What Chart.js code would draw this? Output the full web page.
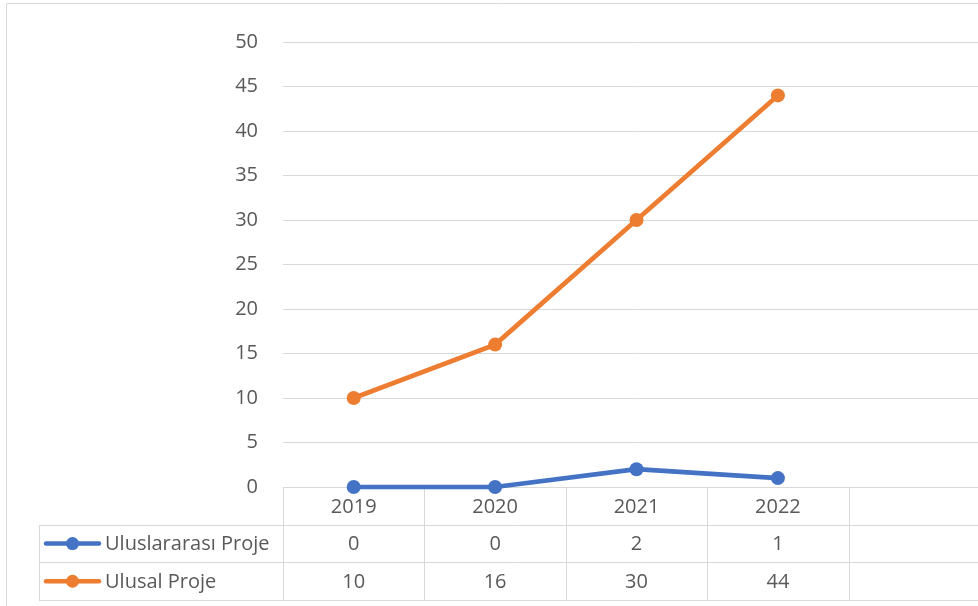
<!DOCTYPE html>
<html><head><meta charset="utf-8">
<script src="https://cdn.jsdelivr.net/npm/chart.js@4/dist/chart.umd.min.js"></script>
<style>
html,body{margin:0;padding:0;background:#fff;overflow:hidden}
#wrap{width:978px;height:606px;overflow:hidden;position:relative}
#box{width:997px;height:606px}
</style></head>
<body><div id="wrap"><div id="box"><canvas id="c"></canvas></div></div>
<script>
const categories = ['2019', '2020', '2021', '2022', ''];
const seriesNames = ['Uluslararası Proje', 'Ulusal Proje'];
const uluslararasiProje = [0, 0, 2, 1, null];
const ulusalProje = [10, 16, 30, 44, null];
const seriesColors = ['#4472C4', '#ED7D31'];
const yTicks = [0, 5, 10, 15, 20, 25, 30, 35, 40, 45, 50];

const FONT = "'Open Sans', 'Liberation Sans', sans-serif";
const TEXT = '#595959';
const GRID = '#D9D9D9';

const tablePlugin = {
  id: 'dataTable',
  beforeDatasetsDraw(chart) {
    const ctx = chart.ctx;
    const xs = chart.scales.x;
    const area = chart.chartArea;
    const rowH = 37.7;
    const top = area.bottom;
    const colW = xs.getPixelForValue(1) - xs.getPixelForValue(0);
    const tableLeft = 39;
    const n = categories.length;
    const rightEdge = xs.getPixelForValue(n - 1) + colW / 2;
    const sx = v => Math.round(v) + 0.5;
    ctx.save();
    ctx.strokeStyle = GRID;
    ctx.lineWidth = 1;
    ctx.beginPath();
    // outer frame
    ctx.moveTo(sx(6), sx(3)); ctx.lineTo(chart.width, sx(3));
    ctx.moveTo(sx(6), sx(3)); ctx.lineTo(sx(6), chart.height);
    // horizontal table lines
    for (let r = 1; r <= 3; r++) {
      const y = sx(top + r * rowH);
      ctx.moveTo(tableLeft, y); ctx.lineTo(rightEdge, y);
    }
    // vertical lines
    ctx.moveTo(sx(tableLeft), sx(top + rowH)); ctx.lineTo(sx(tableLeft), sx(top + 3 * rowH));
    for (let i = 0; i <= n; i++) {
      const x = sx(xs.getPixelForValue(0) - colW / 2 + i * colW);
      ctx.moveTo(x, sx(top)); ctx.lineTo(x, sx(top + 3 * rowH));
    }
    ctx.stroke();

    ctx.fillStyle = TEXT;
    ctx.font = "20px " + FONT;
    ctx.textAlign = 'center';
    ctx.textBaseline = 'middle';
    categories.forEach((c, i) => {
      ctx.fillText(c, xs.getPixelForValue(i), top + rowH / 2 + 1);
    });
    chart.data.datasets.forEach((ds, r) => {
      const cy = top + rowH * (r + 1.5);
      ds.data.forEach((v, i) => {
        if (v !== null && v !== undefined) {
          ctx.fillStyle = TEXT;
          ctx.textAlign = 'center';
          ctx.fillText(String(v), xs.getPixelForValue(i), cy + 1);
        }
      });
      // legend key
      ctx.strokeStyle = ds.borderColor;
      ctx.lineWidth = 4.5;
      ctx.lineCap = 'round';
      ctx.beginPath();
      ctx.moveTo(46, cy); ctx.lineTo(99, cy);
      ctx.stroke();
      ctx.fillStyle = ds.borderColor;
      ctx.beginPath();
      ctx.arc(72.5, cy, 6.5, 0, Math.PI * 2);
      ctx.fill();
      ctx.fillStyle = TEXT;
      ctx.textAlign = 'left';
      ctx.fillText(ds.label, 105, cy + 1);
    });
    ctx.restore();
  }
};

new Chart(document.getElementById('c'), {
  type: 'line',
  data: {
    labels: categories,
    datasets: [
      { label: seriesNames[0], data: uluslararasiProje, borderColor: seriesColors[0], backgroundColor: seriesColors[0],
        borderWidth: 4.7, pointRadius: 7, pointBorderWidth: 0, pointBackgroundColor: seriesColors[0], tension: 0, clip: false },
      { label: seriesNames[1], data: ulusalProje, borderColor: seriesColors[1], backgroundColor: seriesColors[1],
        borderWidth: 4.7, pointRadius: 7, pointBorderWidth: 0, pointBackgroundColor: seriesColors[1], tension: 0, clip: false }
    ]
  },
  options: {
    responsive: true,
    maintainAspectRatio: false,
    animation: false,
    events: [],
    layout: { padding: { top: 42, bottom: 119, left: 0, right: 0 } },
    plugins: { legend: { display: false }, tooltip: { enabled: false } },
    scales: {
      x: { type: 'category', offset: true, display: false },
      y: {
        min: 0, max: 50,
        afterBuildTicks: s => { s.ticks = yTicks.map(v => ({ value: v })); },
        afterFit: s => { s.width = 283; },
        grid: { color: GRID, lineWidth: 1, drawTicks: false },
        border: { display: false },
        ticks: { color: TEXT, font: { family: FONT, size: 20 }, padding: 25 }
      }
    }
  },
  plugins: [tablePlugin]
});
</script>
</body></html>
